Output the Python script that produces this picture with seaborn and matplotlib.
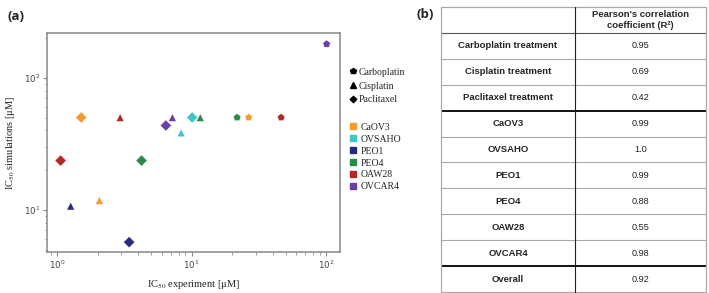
import numpy as np
import pandas as pd
import matplotlib
matplotlib.use("Agg")
import matplotlib.pyplot as plt
from matplotlib.lines import Line2D
import seaborn as sns

# scatter data
cells = ["CaOV3", "OAW28", "PEO1", "PEO4", "OVCAR4", "OVSAHO",
         "CaOV3", "OAW28", "PEO4", "OVSAHO", "OVCAR4", "PEO1",
         "CaOV3", "OAW28", "PEO4", "OVCAR4"]
drugs = ["Paclitaxel"] * 6 + ["Cisplatin"] * 6 + ["Carboplatin"] * 4
ic50_exp = [1.51, 1.06, 3.43, 4.24, 6.43, 10.1,
            2.06, 2.94, 11.6, 8.36, 7.2, 1.26,
            26.6, 46.3, 21.8, 101]
ic50_sim = [50, 23.6, 5.7, 23.6, 43.5, 50,
            11.8, 50, 50, 38.3, 50, 10.7,
            50, 50, 50, 180]

cell_order = ["CaOV3", "OVSAHO", "PEO1", "PEO4", "OAW28", "OVCAR4"]
cell_colors = ["#f59a2c", "#3cc6c8", "#262c7c", "#2a8a48", "#b3262a", "#6a40a2"]
drug_order = ["Carboplatin", "Cisplatin", "Paclitaxel"]
drug_markers = ["p", "^", "D"]

# table data
row_labels = ["Carboplatin treatment", "Cisplatin treatment", "Paclitaxel treatment",
              "CaOV3", "OVSAHO", "PEO1", "PEO4", "OAW28", "OVCAR4", "Overall"]
r2_values = ["0.95", "0.69", "0.42", "0.99", "1.0", "0.99", "0.88", "0.55", "0.98", "0.92"]
header = "Pearson's correlation\ncoefficient (R²)"

df = pd.DataFrame({"exp": ic50_exp, "sim": ic50_sim, "cell": cells, "drug": drugs})

sns.set_style("white")
plt.rcParams["mathtext.fontset"] = "stix"
W, H = 709, 293
fig = plt.figure(figsize=(W / 100, H / 100), dpi=100)

ax = fig.add_axes([47 / W, 1 - 252 / H, 293 / W, 219 / H])
sns.scatterplot(data=df, x="exp", y="sim", hue="cell", style="drug",
                hue_order=cell_order, palette=dict(zip(cell_order, cell_colors)),
                style_order=drug_order, markers=dict(zip(drug_order, drug_markers)),
                s=34, edgecolor="white", linewidth=0.4, legend=False, ax=ax)
ax.set_xscale("log")
ax.set_yscale("log")
ax.set_xlim(0.84, 127)
ax.set_ylim(4.8, 218)
for sp in ax.spines.values():
    sp.set_color("#888888")
    sp.set_linewidth(1.1)
ax.tick_params(which="both", direction="out", color="#888888", labelsize=6.2,
               labelcolor="#444444", left=True, bottom=True, pad=2)
ax.tick_params(which="major", length=3, width=0.8)
ax.tick_params(which="minor", length=1.8, width=0.6)
ax.set_xlabel("IC$_{50}$ experiment [μM]", family="Liberation Serif", fontsize=7.5,
              color="#222222", labelpad=5)
ax.set_ylabel("IC$_{50}$ simulations [μM]", family="Liberation Serif", fontsize=7.5,
              color="#222222", labelpad=5)

# legends
drug_handles = [Line2D([], [], ls="", marker=m, color="black", markersize=4 if m != "D" else 3.3)
                for m in drug_markers]
fig.legend(drug_handles, drug_order, loc="upper left", bbox_to_anchor=(341 / W, 1 - 59 / H),
           frameon=False, handlelength=0.6, handletextpad=0.3, labelspacing=0.5,
           prop={"family": "Liberation Serif", "size": 7})
cell_handles = [Line2D([], [], ls="", marker="s", color=c, markersize=4) for c in cell_colors]
fig.legend(cell_handles, cell_order, loc="upper left", bbox_to_anchor=(341 / W, 1 - 114 / H),
           frameon=False, handlelength=0.6, handletextpad=0.5, labelspacing=0.3,
           prop={"family": "Liberation Serif", "size": 7})

fig.text(8 / W, 1 - 17 / H, "(a)", fontsize=9.5, fontweight="bold", family="Open Sans",
         va="center", ha="left")
fig.text(425 / W, 1 - 15 / H, "(b)", fontsize=9.5, fontweight="bold", family="Open Sans",
         va="center", ha="center")

# table
tl, tr, tt, tb = 441, 706, 7, 292
tx = fig.add_axes([tl / W, 1 - tb / H, (tr - tl) / W, (tb - tt) / H])
tx.set_xlim(0, 1)
n = len(row_labels)
tx.set_ylim(n + 1, 0)
tx.axis("off")
xdiv = (575 - tl) / (tr - tl)
tx.text((xdiv + 1) / 2, 0.5, header, ha="center", va="center", fontsize=6.8,
        fontweight="bold", family="Liberation Sans", linespacing=1.25)
for i, (lab, val) in enumerate(zip(row_labels, r2_values)):
    y = i + 1.5
    tx.text(xdiv / 2, y, lab, ha="center", va="center", fontsize=6.8,
            fontweight="bold", family="Liberation Sans")
    tx.text((xdiv + 1) / 2, y, val, ha="center", va="center", fontsize=6.6,
            family="Liberation Sans", color="#222222")
for k in range(1, n + 1):
    thick = k in (4, 10)
    col = "#111111" if thick else ("#555555" if k == 1 else "#aaaaaa")
    tx.plot([0, 1], [k, k], color=col, lw=1.4 if thick else 0.8,
            solid_capstyle="butt", clip_on=False)
tx.plot([0, 1, 1, 0, 0], [0, 0, n + 1, n + 1, 0], color="#aaaaaa", lw=0.9, clip_on=False)
tx.plot([xdiv, xdiv], [0, n + 1], color="#222222", lw=0.8, clip_on=False)

fig.savefig("out.png", dpi=100)
